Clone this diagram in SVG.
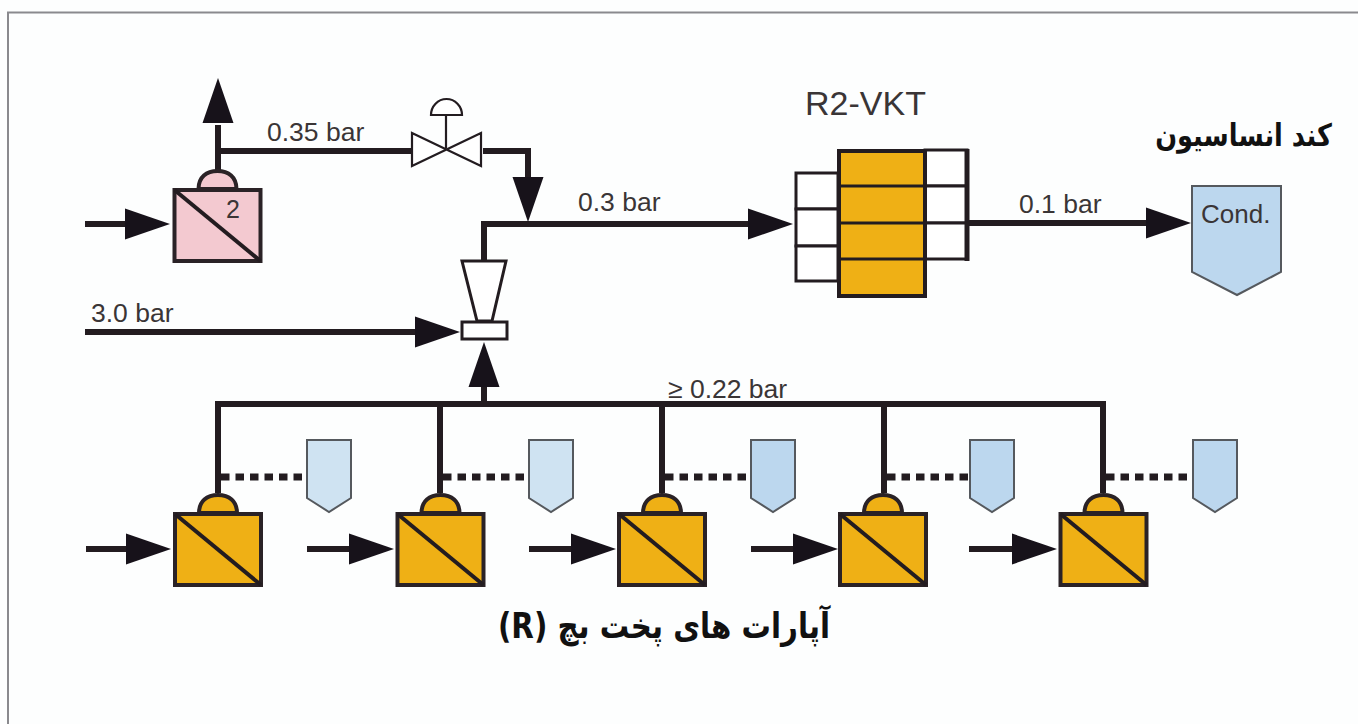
<svg xmlns="http://www.w3.org/2000/svg" width="1358" height="724" viewBox="0 0 1358 724">
<style>
.t{font-family:"Liberation Sans",Arial,sans-serif;fill:#3a3536;font-size:26.500px}
.fa{font-family:"DejaVu Sans",sans-serif;font-weight:bold;fill:#111;direction:rtl}
.l{fill:none;stroke:#231c20;stroke-width:6}
.thin{fill:#fff;stroke:#231c20;stroke-width:2.200}
.ah{fill:#17121a}
.dot{fill:none;stroke:#231c20;stroke-width:7;stroke-dasharray:8.500 6}
.ms{stroke:#2a2226;stroke-width:4}
.mx{fill:none;stroke:#231c20;stroke-width:4}
.or{fill:#efb015}
.pk{fill:#f3c9d0}
.tag{fill:#cfe3f2;stroke:#55595e;stroke-width:2}
.tag2{fill:#bcd7ee;stroke:#55595e;stroke-width:2}
.wh{fill:#fff;stroke:#231c20;stroke-width:3}
</style>
<defs>
<g id="m"><path class="ms" d="M-19 20C-19 8 -11 2 0 2C11 2 19 8 19 20Z"/><rect class="ms" x="-43" y="21" width="86" height="71"/><path class="mx" d="M-43 21L43 92"/></g>
<path id="ar" class="ah" d="M0 0L-45 -15.500V15.500Z"/>
<path id="tg" d="M0 0H44V58L22 72L0 58Z"/>
</defs>
<rect width="1358" height="724" fill="#fdfefe"/>
<path d="M1358 12.500H8V724" fill="none" stroke="#8a8a8e" stroke-width="2"/>
<g id="connectors">
<path class="l" d="M218 170V125M218 151H411"/>
<path class="l" d="M483 151H528V180"/>
<path class="l" d="M484 260V224H750"/>
<path class="l" d="M85 332H420"/>
<path class="l" d="M967 223H1148"/>
<path class="l" d="M85 224H130"/>
<path class="l" d="M218 493V404H1103V493M440 404V493M662 404V493M884 404V493M484 404V385"/>
<path class="dot" d="M221 477H307M443 477H529M665 477H751M887 477H969M1106 477H1192"/>
<path class="l" d="M86 549H130M307 549H352M529 549H574M751 549H796M969 549H1014"/>
<use href="#ar" transform="translate(170 224)"/>
<use href="#ar" transform="translate(218 78) rotate(-90)"/>
<use href="#ar" transform="translate(528 222) rotate(90)"/>
<use href="#ar" transform="translate(793 224)"/>
<use href="#ar" transform="translate(460 332)"/>
<use href="#ar" transform="translate(484 342) rotate(-90)"/>
<use href="#ar" transform="translate(1191 223)"/>
<use href="#ar" transform="translate(171 549)"/>
<use href="#ar" transform="translate(394 549)"/>
<use href="#ar" transform="translate(616 549)"/>
<use href="#ar" transform="translate(838 549)"/>
<use href="#ar" transform="translate(1057 549)"/>
</g>
<g id="pump-top" class="pk"><use href="#m" transform="translate(217.500 169)"/><text class="t" x="233" y="218" text-anchor="middle" style="font-size:25px">2</text></g>
<g id="valve"><path class="thin" d="M412 133L481 166V133L412 166Z"/><path class="thin" d="M446 148V115"/><path class="thin" d="M431 115A15.500 16 0 0 1 462 115Z"/></g>
<g id="ejector"><path class="wh" d="M462 261H506L492 321H477Z"/><rect class="wh" x="462" y="322" width="45" height="17"/></g>
<g id="r2-vkt">
<rect class="wh" x="925" y="150" width="42" height="36"/><rect class="wh" x="925" y="186" width="42" height="37"/><rect class="wh" x="925" y="223" width="42" height="36"/>
<path class="l" d="M967 149V261" style="stroke-width:5"/>
<rect class="wh" x="796" y="173" width="42" height="36"/><rect class="wh" x="796" y="209" width="42" height="37"/><rect class="wh" x="796" y="246" width="42" height="35"/>
<rect x="839" y="151" width="86" height="145" class="or" stroke="#231c20" stroke-width="4"/>
<path class="wh" d="M839 186H925M839 223H925M839 259H925"/>
<text class="t" x="805" y="115" style="font-size:34px">R2-VKT</text>
</g>
<g id="cond"><path class="tag2" d="M1192 186H1281V272L1237 295L1192 272Z"/><text class="t" x="1201" y="223" style="font-size:26px">Cond.</text></g>
<g id="membranes" class="or">
<use id="m1" href="#m" transform="translate(218 493)"/>
<use id="m2" href="#m" transform="translate(440.500 493)"/>
<use id="m3" href="#m" transform="translate(662 493)"/>
<use id="m4" href="#m" transform="translate(883 493)"/>
<use id="m5" href="#m" transform="translate(1103.500 493)"/>
</g>
<g id="tags">
<use href="#tg" class="tag" transform="translate(307 440)"/>
<use href="#tg" class="tag" transform="translate(529 440)"/>
<use href="#tg" class="tag2" transform="translate(751 440)"/>
<use href="#tg" class="tag2" transform="translate(970 440)"/>
<use href="#tg" class="tag2" transform="translate(1193 440)"/>
</g>
<g id="labels">
<text class="t" x="267" y="141">0.35 bar</text>
<text class="t" x="578" y="211">0.3 bar</text>
<text class="t" x="1019" y="213">0.1 bar</text>
<text class="t" x="91" y="322">3.0 bar</text>
<text class="t" x="668" y="398">≥ 0.22 bar</text>
<text class="fa" transform="translate(1332 146) scale(.827 1)" style="font-size:31px">کند انساسیون</text>
<text class="fa" transform="translate(830 638) scale(.838 1)" style="font-size:35px">آپارات های پخت بچ (R)</text>
</g>
</svg>
